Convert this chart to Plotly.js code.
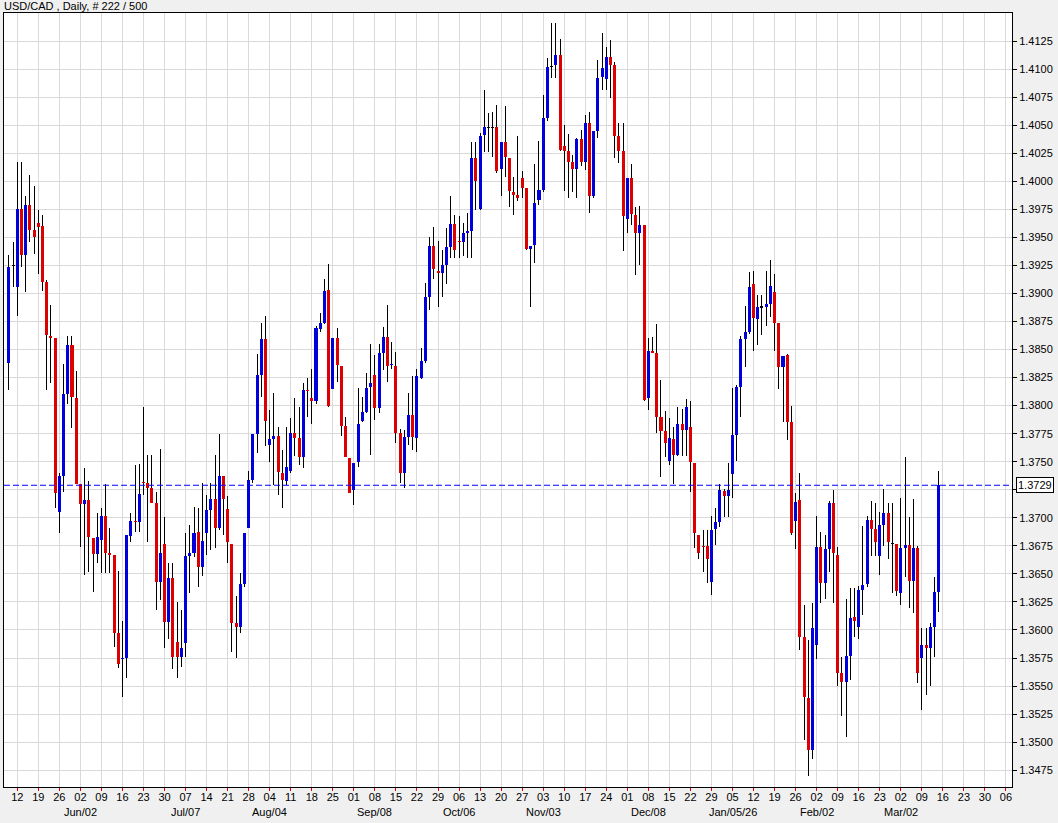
<!DOCTYPE html>
<html>
<head>
<meta charset="utf-8">
<script src="https://cdn.plot.ly/plotly-3.0.1.min.js"></script>
<style>
html,body{margin:0;padding:0;background:#f0f0f0;}
#chart{width:1058px;height:823px;}
</style>
</head>
<body>
<div id="chart"></div>
<script>
// Daily candles, May 08 2025 .. Mar 13 2026 (222 bars)
const opens = [
1.3838,1.3925,1.3906,1.3975,1.3934,1.3979,1.3957,1.3963,1.3960,1.3910,
1.3862,1.3860,1.3705,1.3737,1.3810,1.3854,1.3807,1.3730,1.3712,1.3716,
1.3682,1.3668,1.3680,1.3702,1.3669,1.3667,1.3597,1.3574,1.3575,1.3684,
1.3697,1.3696,1.3732,1.3731,1.3727,1.3713,1.3643,1.3677,1.3607,1.3646,
1.3589,1.3576,1.3588,1.3666,1.3669,1.3687,1.3656,1.3686,1.3707,1.3717,
1.3691,1.3737,1.3708,1.3677,1.3606,1.3603,1.3641,1.3691,1.3734,1.3775,
1.3827,1.3859,1.3765,1.3770,1.3773,1.3740,1.3733,1.3742,1.3776,1.3771,
1.3754,1.3814,1.3807,1.3804,1.3868,1.3874,1.3903,1.3815,1.3860,1.3835,
1.3782,1.3753,1.3725,1.3750,1.3786,1.3794,1.3817,1.3827,1.3798,1.3847,
1.3861,1.3836,1.3835,1.3776,1.3740,1.3772,1.3792,1.3771,1.3825,1.3840,
1.3897,1.3942,1.3920,1.3918,1.3925,1.3941,1.3962,1.3947,1.3946,1.3954,
1.3956,1.4021,1.3975,1.4041,1.4048,1.4048,1.4048,1.4011,1.4035,1.4021,
1.3990,1.3988,1.4003,1.3994,1.3940,1.3943,1.3983,1.3992,1.4056,1.4102,
1.4104,1.4113,1.4031,1.4027,1.4017,1.4011,1.4038,1.4017,1.4052,1.3987,
1.4045,1.4093,1.4091,1.4111,1.4104,1.4040,1.4027,1.3966,1.4003,1.3970,
1.3954,1.3961,1.3807,1.3849,1.3847,1.3790,1.3777,1.3751,1.3770,1.3756,
1.3784,1.3778,1.3781,1.3749,1.3685,1.3675,1.3675,1.3643,1.3690,1.3696,
1.3724,1.3719,1.3739,1.3774,1.3817,1.3859,1.3866,1.3908,1.3877,1.3888,
1.3888,1.3891,1.3901,1.3874,1.3834,1.3845,1.3785,1.3697,1.3716,1.3594,
1.3539,1.3493,1.3587,1.3674,1.3642,1.3672,1.3713,1.3667,1.3562,1.3554,
1.3577,1.3612,1.3603,1.3636,1.3641,1.3698,1.3690,1.3666,1.3694,1.3704,
1.3677,1.3677,1.3633,1.3673,1.3676,1.3644,1.3673,1.3575,1.3587,1.3584,
1.3603,1.3634
];
const highs = [
1.3934,1.3946,1.4017,1.4017,1.3987,1.4006,1.3996,1.3974,1.3970,1.3912,
1.3890,1.3860,1.3740,1.3837,1.3862,1.3862,1.3831,1.3730,1.3744,1.3733,
1.3682,1.3704,1.3709,1.3730,1.3691,1.3667,1.3653,1.3608,1.3685,1.3704,
1.3747,1.3748,1.3799,1.3756,1.3756,1.3723,1.3761,1.3701,1.3660,1.3660,
1.3625,1.3618,1.3686,1.3694,1.3710,1.3709,1.3731,1.3720,1.3731,1.3756,
1.3775,1.3737,1.3719,1.3677,1.3630,1.3651,1.3686,1.3742,1.3775,1.3846,
1.3874,1.3880,1.3796,1.3811,1.3781,1.3760,1.3781,1.3789,1.3807,1.3799,
1.3820,1.3825,1.3833,1.3871,1.3883,1.3913,1.3926,1.3860,1.3869,1.3835,
1.3790,1.3753,1.3749,1.3816,1.3808,1.3829,1.3855,1.3845,1.3855,1.3870,
1.3890,1.3857,1.3848,1.3779,1.3778,1.3811,1.3826,1.3833,1.3851,1.3909,
1.3950,1.3959,1.3947,1.3939,1.3958,1.3987,1.3970,1.3969,1.3963,1.3972,
1.4035,1.4035,1.4043,1.4081,1.4061,1.4062,1.4068,1.4035,1.4067,1.4021,
1.4004,1.4040,1.4009,1.3994,1.3942,1.4015,1.4036,1.4077,1.4110,1.4141,
1.4141,1.4127,1.4050,1.4042,1.4023,1.4039,1.4046,1.4059,1.4062,1.4045,
1.4108,1.4132,1.4120,1.4126,1.4106,1.4052,1.4052,1.4003,1.4015,1.3977,
1.3978,1.3961,1.3860,1.3861,1.3873,1.3823,1.3795,1.3789,1.3781,1.3799,
1.3797,1.3806,1.3804,1.3749,1.3685,1.3689,1.3689,1.3702,1.3709,1.3730,
1.3726,1.3749,1.3816,1.3818,1.3862,1.3889,1.3919,1.3920,1.3899,1.3899,
1.3920,1.3930,1.3917,1.3874,1.3844,1.3846,1.3800,1.3722,1.3740,1.3622,
1.3591,1.3624,1.3702,1.3687,1.3685,1.3715,1.3725,1.3674,1.3576,1.3628,
1.3637,1.3637,1.3639,1.3693,1.3702,1.3715,1.3713,1.3705,1.3726,1.3713,
1.3713,1.3677,1.3718,1.3754,1.3701,1.3717,1.3675,1.3602,1.3602,1.3606,
1.3647,1.3742
];
const lows = [
1.3814,1.3906,1.3880,1.3924,1.3901,1.3946,1.3935,1.3917,1.3902,1.3814,
1.3820,1.3709,1.3686,1.3723,1.3801,1.3780,1.3730,1.3674,1.3649,1.3652,
1.3634,1.3660,1.3651,1.3651,1.3651,1.3585,1.3566,1.3540,1.3557,1.3678,
1.3687,1.3687,1.3720,1.3678,1.3713,1.3618,1.3627,1.3584,1.3592,1.3565,
1.3557,1.3567,1.3576,1.3633,1.3665,1.3638,1.3648,1.3667,1.3671,1.3673,
1.3689,1.3685,1.3660,1.3580,1.3575,1.3597,1.3638,1.3691,1.3731,1.3758,
1.3808,1.3764,1.3750,1.3729,1.3720,1.3709,1.3729,1.3740,1.3755,1.3747,
1.3744,1.3790,1.3784,1.3801,1.3866,1.3873,1.3799,1.3815,1.3821,1.3773,
1.3754,1.3722,1.3711,1.3745,1.3785,1.3793,1.3756,1.3787,1.3793,1.3832,
1.3821,1.3833,1.3767,1.3731,1.3727,1.3765,1.3760,1.3759,1.3824,1.3838,
1.3885,1.3913,1.3888,1.3897,1.3908,1.3932,1.3932,1.3932,1.3933,1.3932,
1.3932,1.3974,1.3974,1.4026,1.4026,1.4022,1.4007,1.3987,1.4004,1.3977,
1.3970,1.3982,1.3985,1.3939,1.3888,1.3927,1.3979,1.3990,1.4054,1.4092,
1.4092,1.4027,1.3991,1.3985,1.3990,1.3985,1.4014,1.4010,1.3972,1.3985,
1.4039,1.4081,1.4081,1.4074,1.4021,1.4016,1.3938,1.3954,1.3961,1.3916,
1.3925,1.3804,1.3796,1.3847,1.3776,1.3736,1.3754,1.3747,1.3730,1.3755,
1.3755,1.3755,1.3723,1.3673,1.3663,1.3652,1.3642,1.3631,1.3676,1.3692,
1.3701,1.3701,1.3718,1.3751,1.3790,1.3834,1.3864,1.3849,1.3854,1.3863,
1.3871,1.3879,1.3849,1.3815,1.3785,1.3769,1.3685,1.3672,1.3582,1.3502,
1.3470,1.3485,1.3574,1.3624,1.3628,1.3652,1.3624,1.3550,1.3523,1.3505,
1.3555,1.3594,1.3592,1.3613,1.3638,1.3666,1.3666,1.3649,1.3675,1.3663,
1.3633,1.3630,1.3622,1.3647,1.3620,1.3615,1.3553,1.3529,1.3542,1.3550,
1.3576,1.3616
];
const closes = [
1.3924,1.3925,1.3975,1.3934,1.3979,1.3957,1.3950,1.3959,1.3910,1.3863,
1.3860,1.3722,1.3737,1.3810,1.3854,1.3808,1.3730,1.3712,1.3716,1.3683,
1.3668,1.3683,1.3702,1.3669,1.3667,1.3597,1.3570,1.3575,1.3685,1.3697,
1.3696,1.3721,1.3731,1.3727,1.3713,1.3643,1.3669,1.3607,1.3646,1.3576,
1.3576,1.3584,1.3666,1.3669,1.3686,1.3656,1.3679,1.3707,1.3717,1.3691,
1.3737,1.3717,1.3678,1.3606,1.3603,1.3641,1.3686,1.3734,1.3775,1.3827,
1.3859,1.3786,1.3770,1.3773,1.3741,1.3734,1.3745,1.3776,1.3771,1.3754,
1.3814,1.3813,1.3804,1.3869,1.3874,1.3902,1.3800,1.3860,1.3836,1.3782,
1.3754,1.3722,1.3749,1.3784,1.3794,1.3816,1.3820,1.3798,1.3847,1.3861,
1.3835,1.3837,1.3776,1.3740,1.3772,1.3792,1.3772,1.3826,1.3840,1.3897,
1.3942,1.3922,1.3918,1.3925,1.3941,1.3962,1.3939,1.3946,1.3954,1.3956,
1.4021,1.4000,1.4040,1.4048,1.4048,1.4048,1.4009,1.4035,1.4022,1.3991,
1.3988,1.3985,1.3994,1.3940,1.3942,1.3981,1.3992,1.4056,1.4102,1.4102,
1.4113,1.4028,1.4027,1.4017,1.4011,1.4038,1.4017,1.4052,1.3987,1.4045,
1.4092,1.4101,1.4111,1.4104,1.4040,1.4027,1.3969,1.4003,1.3971,1.3954,
1.3961,1.3805,1.3849,1.3847,1.3790,1.3777,1.3767,1.3771,1.3756,1.3784,
1.3778,1.3799,1.3750,1.3686,1.3669,1.3674,1.3663,1.3689,1.3696,1.3725,
1.3719,1.3725,1.3774,1.3817,1.3859,1.3866,1.3906,1.3878,1.3888,1.3888,
1.3891,1.3907,1.3874,1.3834,1.3844,1.3785,1.3686,1.3714,1.3594,1.3540,
1.3493,1.3602,1.3674,1.3642,1.3672,1.3713,1.3669,1.3562,1.3554,1.3577,
1.3611,1.3608,1.3636,1.3640,1.3698,1.3690,1.3678,1.3694,1.3704,1.3678,
1.3677,1.3635,1.3673,1.3676,1.3644,1.3673,1.3562,1.3587,1.3584,1.3603,
1.3634,1.3729
];
// Weekly tick labels (Mondays), first Monday = 3rd bar
const dayLabels = ["12","19","26","02","09","16","23","30","07","14","21","28","04","11","18","25","01","08","15","22","29","06","13","20","27","03","10","17","24","01","08","15","22","29","05","12","19","26","02","09","16","23","02","09","16","23","30","06"];
const monthLabels = ["Jun/02","Jul/07","Aug/04","Sep/08","Oct/06","Nov/03","Dec/08","Jan/05/26","Feb/02","Mar/02"];
const monthWeek = [3,8,12,17,21,25,30,34,38,42]; // week number of each month label
const priceTicks = [1.3475,1.3500,1.3525,1.3550,1.3575,1.3600,1.3625,1.3650,1.3675,1.3700,1.3725,1.3750,1.3775,1.3800,1.3825,1.3850,1.3875,1.3900,1.3925,1.3950,1.3975,1.4000,1.4025,1.4050,1.4075,1.4100,1.4125];
const lastPrice = 1.3729;
const chartTitle = "USD/CAD , Daily, # 222 / 500";

const n = opens.length;
const idx = opens.map((_, i) => i);
const tickIdx = dayLabels.map((_, k) => 2 + 5 * k);
// the 1.3725 label is hidden behind the last-price label
const priceText = priceTicks.map(v => Math.abs(v - lastPrice) < 0.001 ? '' : v.toFixed(4));

// wicks split above and below the body
const wx = [], wy = [];
for (let i = 0; i < n; i++) {
  const top = Math.max(opens[i], closes[i]);
  const bot = Math.min(opens[i], closes[i]);
  wx.push(i, i, null, i, i, null);
  wy.push(highs[i], top, null, bot, lows[i], null);
}
const minH = 0.00011;
const base = [], hgt = [], col = [];
for (let i = 0; i < n; i++) {
  const lo = Math.min(opens[i], closes[i]);
  const d = Math.abs(closes[i] - opens[i]);
  if (d < minH) { base.push(lo + d / 2 - minH / 2); hgt.push(minH); }
  else { base.push(lo); hgt.push(d); }
  col.push(closes[i] > opens[i] ? '#0000dd' : (closes[i] < opens[i] ? '#dd0000' : '#000000'));
}

const traces = [
  {type: 'scatter', mode: 'lines', x: wx, y: wy, line: {color: '#000000', width: 1}, hoverinfo: 'skip', showlegend: false},
  {type: 'bar', x: idx, y: hgt, base: base, width: 0.72, marker: {color: col, line: {width: 0}}, showlegend: false, hoverinfo: 'skip'}
];

const annotations = [
  {text: chartTitle, xref: 'paper', yref: 'paper', x: 0, y: 1, xanchor: 'left', yanchor: 'bottom', showarrow: false,
   font: {family: 'Arial, Liberation Sans', size: 11, color: '#000'}, xshift: -2, yshift: -1},
  {text: lastPrice.toFixed(4), xref: 'paper', yref: 'y', x: 1, y: lastPrice, xanchor: 'left', yanchor: 'middle', showarrow: false,
   font: {family: 'Arial, Liberation Sans', size: 11, color: '#000'}, bgcolor: '#ffffff', bordercolor: '#000000', borderwidth: 1, borderpad: 1, xshift: 4}
];
monthLabels.forEach((m, k) => {
  annotations.push({text: m, xref: 'x', yref: 'paper', x: 2 + 5 * monthWeek[k], y: 0, xanchor: 'center', yanchor: 'top', yshift: -17,
    showarrow: false, font: {family: 'Arial, Liberation Sans', size: 11, color: '#000'}});
});

const layout = {
  width: 1058, height: 823,
  margin: {l: 4, r: 46, t: 13, b: 36},
  paper_bgcolor: '#f0f0f0', plot_bgcolor: '#ffffff',
  showlegend: false,
  xaxis: {range: [-1.16, 238.43], tickvals: tickIdx, ticktext: dayLabels, showgrid: true, gridcolor: '#d9d9d9', gridwidth: 1,
          ticks: 'outside', ticklen: 3, tickcolor: '#e00000', zeroline: false, showline: true, linecolor: '#000', linewidth: 1, mirror: true,
          ticklabelstandoff: -3,
          tickfont: {family: 'Arial, Liberation Sans', size: 11, color: '#000'}, fixedrange: true},
  yaxis: {side: 'right', range: [1.3460, 1.4150], tickmode: 'array', tickvals: priceTicks, ticktext: priceText, showgrid: true, gridcolor: '#d9d9d9',
          ticks: 'outside', ticklen: 4, tickcolor: '#000', zeroline: false, showline: true, linecolor: '#000', linewidth: 1, mirror: true,
          tickfont: {family: 'Arial, Liberation Sans', size: 11, color: '#000'}, fixedrange: true},
  shapes: [{type: 'line', xref: 'paper', yref: 'y', x0: 0, x1: 1, y0: lastPrice, y1: lastPrice, line: {color: '#0000ff', width: 1, dash: '6px,3px'}}],
  annotations: annotations,
  bargap: 0
};
Plotly.newPlot('chart', traces, layout, {staticPlot: true, displayModeBar: false}).then(() => {
  document.querySelectorAll('.scatterlayer path.js-line').forEach(p => { p.style.shapeRendering = 'crispEdges'; });
  document.querySelectorAll('.barlayer path').forEach(p => { p.style.shapeRendering = 'crispEdges'; });
});
</script>
</body>
</html>
